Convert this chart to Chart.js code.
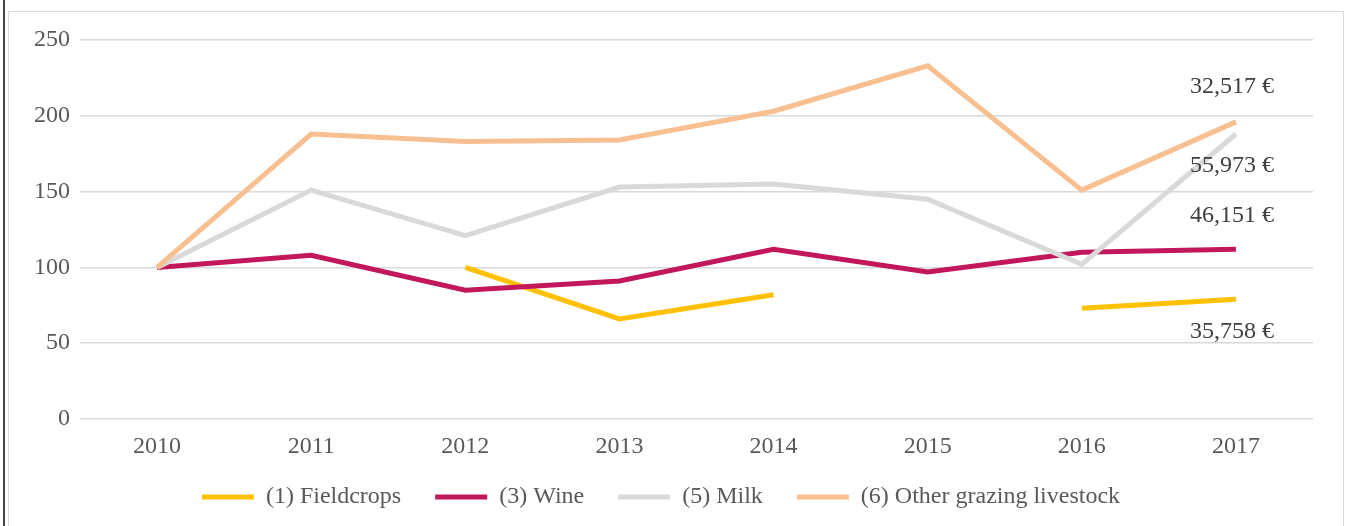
<!DOCTYPE html>
<html>
<head>
<meta charset="utf-8">
<script src="https://cdn.jsdelivr.net/npm/chart.js@4/dist/chart.umd.min.js"></script>
<style>
    html, body { margin: 0; padding: 0; background: #fff; overflow: hidden; }
    body { width: 1345px; height: 526px; position: relative; }
    .page-edge { position: absolute; left: 3px; top: 0; width: 2px; height: 526px; background: #444; }
    .box { position: absolute; left: 8px; top: 11px; width: 1334px; height: 560px; border: 1px solid #d9d9d9; }
    .wrap { position: absolute; left: 0; top: 0; width: 1334px; height: 560px; }
</style>
</head>
<body>
<div class="page-edge"></div>
<div class="box">
    <div class="wrap"><canvas id="incomeChart"></canvas></div>
</div>
<script>
const years = ['2010', '2011', '2012', '2013', '2014', '2015', '2016', '2017'];
const fieldcrops = [null, null, 100, 66, 82, null, 73, 79];
const wine = [100, 108, 85, 91, 112, 97, 110, 112];
const milk = [100, 151, 121, 153, 155, 145, 102, 188];
const otherGrazing = [100, 188, 183, 184, 203, 233, 151, 196];
const seriesNames = ['(1) Fieldcrops', '(3) Wine', '(5) Milk', '(6) Other grazing livestock'];
const endLabels = ['35,758 €', '46,151 €', '55,973 €', '32,517 €'];

const serif = "'Liberation Serif', 'Times New Roman', serif";

function makeSet(label, data, color, order) {
    return {
        label: label,
        data: data,
        borderColor: color,
        backgroundColor: color,
        borderWidth: 5,
        pointRadius: 0,
        tension: 0,
        spanGaps: false,
        order: order
    };
}

// write the euro figures next to the last point of each line
const endLabelPlugin = {
    id: 'endLabels',
    afterDatasetsDraw(chart) {
        const ctx = chart.ctx;
        const offsets = [32, -34, 32, -35];
        ctx.save();
        ctx.font = "24px " + serif;
        ctx.fillStyle = '#404040';
        ctx.textAlign = 'right';
        ctx.textBaseline = 'middle';
        chart.data.datasets.forEach((ds, i) => {
            const meta = chart.getDatasetMeta(i);
            const pt = meta.data[meta.data.length - 1];
            ctx.fillText(endLabels[i], pt.x + 38, pt.y + offsets[i]);
        });
        ctx.restore();
    }
};

// keep legend in dataset order, with a wider gap after each entry
function legendLabels(chart) {
    const items = Chart.defaults.plugins.legend.labels.generateLabels(chart);
    items.sort((a, b) => a.datasetIndex - b.datasetIndex);
    items.forEach((item, i) => {
        if (i < items.length - 1) item.text = item.text + '    ';
    });
    return items;
}

const ctx = document.getElementById('incomeChart').getContext('2d');
const incomeChart = new Chart(ctx, {
    type: 'line',
    data: {
        labels: years,
        datasets: [
            makeSet(seriesNames[0], fieldcrops, '#FFC000', 4),
            makeSet(seriesNames[1], wine, '#C2185B', 3),
            makeSet(seriesNames[2], milk, '#D9D9D9', 2),
            makeSet(seriesNames[3], otherGrazing, '#F8BF90', 1)
        ]
    },
    options: {
        responsive: true,
        maintainAspectRatio: false,
        animation: false,
        layout: {
            padding: { left: 0, right: 30, top: 28, bottom: 53 }
        },
        scales: {
            x: {
                offset: true,
                grid: { display: false, drawTicks: false },
                border: { display: false },
                ticks: {
                    padding: 16,
                    color: '#595959',
                    font: { family: serif, size: 24, lineHeight: 1 }
                }
            },
            y: {
                min: 0,
                max: 250,
                afterFit: (scale) => { scale.width = 71; },
                grid: { color: '#d9d9d9', lineWidth: 1.5, drawTicks: false },
                border: { display: false },
                ticks: {
                    stepSize: 50,
                    padding: 10,
                    color: '#595959',
                    font: { family: serif, size: 24 }
                }
            }
        },
        plugins: {
            legend: {
                display: true,
                position: 'bottom',
                labels: {
                    usePointStyle: true,
                    pointStyle: 'line',
                    pointStyleWidth: 52,
                    padding: 10,
                    color: '#595959',
                    font: { family: serif, size: 24 },
                    generateLabels: legendLabels
                }
            },
            tooltip: { enabled: false }
        }
    },
    plugins: [endLabelPlugin]
});
</script>
</body>
</html>
